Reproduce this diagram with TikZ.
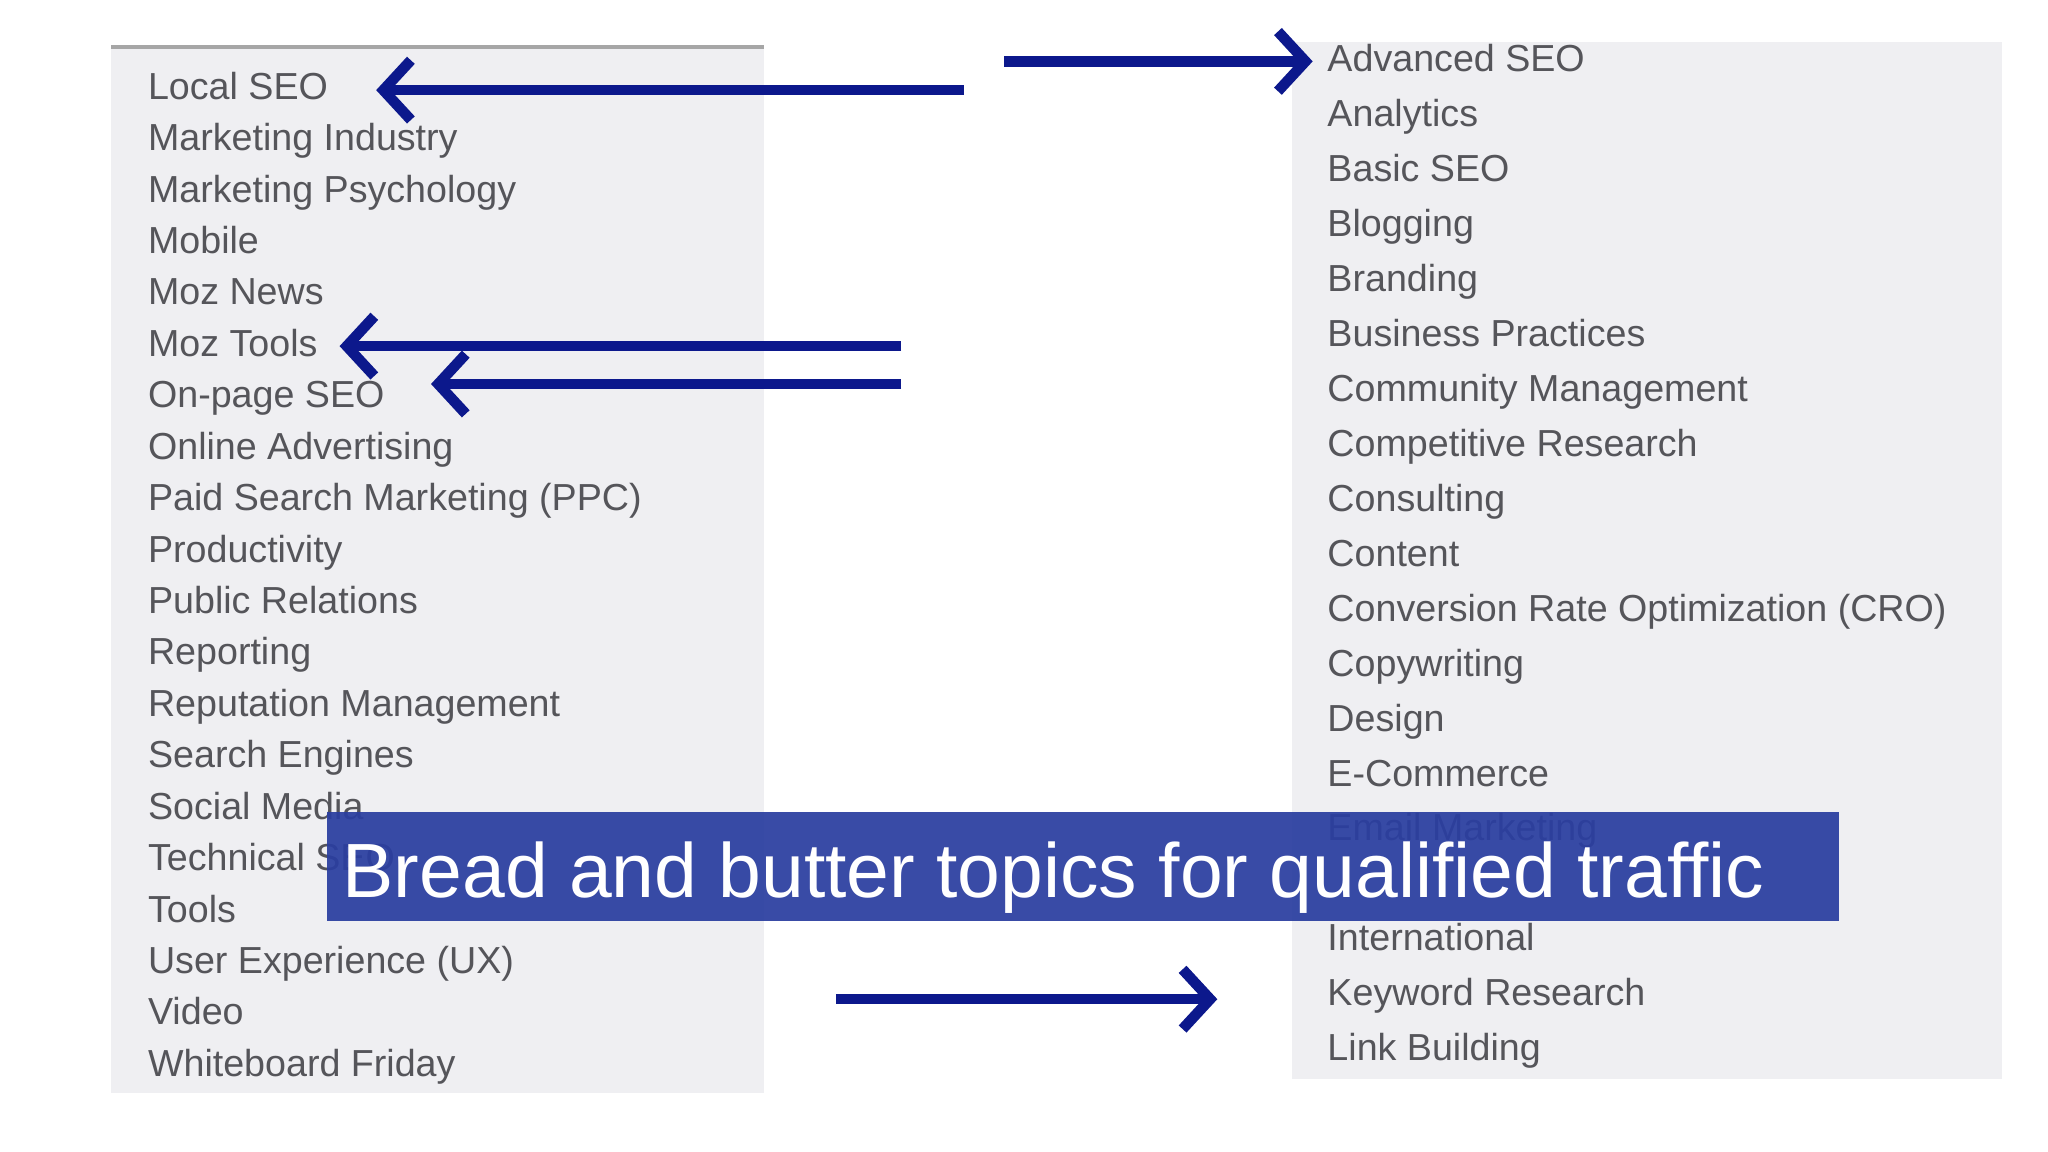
\documentclass[tikz,border=0pt]{standalone}
\usepackage{fontspec}
\setmainfont{Liberation Sans}
\usetikzlibrary{arrows.meta}
\definecolor{panel}{RGB}{239,239,242}
\definecolor{itemtxt}{RGB}{85,85,90}
\definecolor{arrowblue}{RGB}{12,24,140}
\definecolor{banner}{RGB}{42,62,160}
\tikzset{
  item/.style={anchor=base west,inner sep=0pt,text=itemtxt,font=\fontsize{16.4}{18}\selectfont},
  bigarrow/.style={draw=arrowblue,line width=4.6pt,-{Straight Barb[length=12pt,width=26pt,line width=4.6pt]}}
}
\begin{document}
\begin{tikzpicture}[x=0.02cm,y=-0.02cm]
\useasboundingbox (0,0) rectangle (1568,882);
\fill[white] (0,0) rectangle (1568,882);
\fill[panel] (85,35) rectangle (585,837);
\draw[gray!70,line width=1.5pt] (85,36) -- (585,36);
\fill[panel] (989,32) rectangle (1533,826);
\foreach \t [count=\i] in {Local SEO,Marketing Industry,Marketing Psychology,Mobile,Moz News,Moz Tools,On-page SEO,Online Advertising,Paid Search Marketing (PPC),Productivity,Public Relations,Reporting,Reputation Management,Search Engines,Social Media,Technical SEO,Tools,User Experience (UX),Video,Whiteboard Friday}
  \node[item] (l\i) at (113,{76+(\i-1)*39.37}) {\t};
\foreach \t/\k in {Advanced SEO/0,Analytics/1,Basic SEO/2,Blogging/3,Branding/4,Business Practices/5,Community Management/6,Competitive Research/7,Consulting/8,Content/9,Conversion Rate Optimization (CRO)/10,Copywriting/11,Design/12,E-Commerce/13,Email Marketing/14,International/16,Keyword Research/17,Link Building/18}
  \node[item] (r\k) at (1016,{55+\k*42.06}) {\t};
\fill[banner,opacity=0.93] (250,622) rectangle (1408,705);
\node[anchor=base west,inner sep=0pt,text=white,font=\fontsize{33.5}{36}\selectfont] (ban) at (262,687) {Bread and butter topics for qualified traffic};
\coordinate (a1s) at (738,69); \coordinate (a1e) at (288,69);
\coordinate (a2s) at (769,47); \coordinate (a2e) at (1005,47);
\coordinate (a3s) at (690,265); \coordinate (a3e) at (260,265);
\coordinate (a4s) at (690,294); \coordinate (a4e) at (330,294);
\coordinate (a5s) at (640,765); \coordinate (a5e) at (932,765);
\foreach \a in {a1,a2,a3,a4,a5} \draw[bigarrow] (\a s) -- (\a e);
\end{tikzpicture}
\end{document}
